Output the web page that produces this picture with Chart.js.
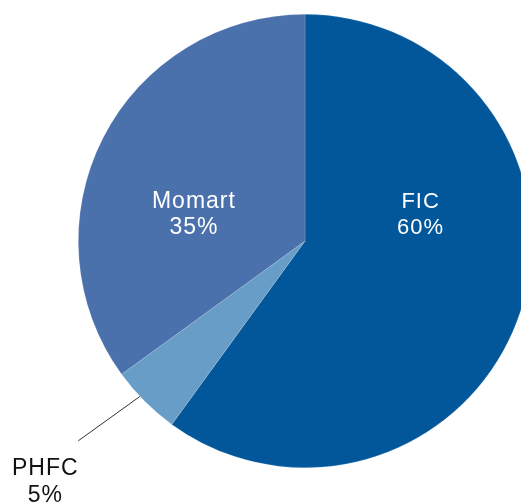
<!DOCTYPE html>
<html>
<head>
<meta charset="utf-8">
<script src="https://cdn.jsdelivr.net/npm/chart.js@4/dist/chart.umd.min.js"></script>
<style>
  html, body { margin: 0; padding: 0; background: #fff; overflow: hidden; }
  #wrap { position: absolute; left: 0; top: 0; }
</style>
</head>
<body>
<div id="wrap"><canvas id="pieChart" width="610" height="520"></canvas></div>
<script>
// Data
const categories = ["FIC", "PHFC", "Momart"];
const shares = [60, 5, 35];
const sliceColors = ["#02579b", "#689dc7", "#4b71ad"];

// label placement (fraction of radius from pie centre); null = outside with leader line
const labelSpots = [[0.51, -0.115], null, [-0.49, -0.115]];

const labelPlugin = {
    id: "sliceLabels",
    afterDatasetsDraw(chart) {
        const ctx = chart.ctx;
        const arcs = chart.getDatasetMeta(0).data;
        ctx.save();
        ctx.font = "22px 'Liberation Sans', Arial, sans-serif";
        ctx.letterSpacing = "1px";
        ctx.textAlign = "center";
        ctx.textBaseline = "middle";
        arcs.forEach((arc, i) => {
            const { x, y, outerRadius, startAngle, endAngle } = arc.getProps(["x", "y", "outerRadius", "startAngle", "endAngle"], true);
            const lines = [categories[i], shares[i] + "%"];
            const spot = labelSpots[i];
            if (spot) {
                ctx.fillStyle = "#ffffff";
                const lx = x + spot[0] * outerRadius;
                const ly = y + spot[1] * outerRadius;
                ctx.fillText(lines[0], lx, ly - 13);
                ctx.fillText(lines[1], lx, ly + 13);
            } else {
                // leader line from the slice edge out to the label
                const mid = (startAngle + endAngle) / 2;
                const sx = x + Math.cos(mid + 0.03) * outerRadius;
                const sy = y + Math.sin(mid + 0.03) * outerRadius;
                const ex = x + Math.cos(mid + 0.063) * outerRadius * 1.333;
                const ey = y + Math.sin(mid + 0.063) * outerRadius * 1.333;
                ctx.strokeStyle = "#333333";
                ctx.lineWidth = 1;
                ctx.beginPath();
                ctx.moveTo(sx, sy);
                ctx.lineTo(ex, ey);
                ctx.stroke();
                ctx.fillStyle = "#111111";
                ctx.font = "23px 'Liberation Sans', Arial, sans-serif";
                ctx.fillText(lines[0], ex - 33, ey + 28);
                ctx.fillText(lines[1], ex - 33, ey + 55);
            }
        });
        ctx.restore();
    },
};

new Chart(document.getElementById("pieChart"), {
    type: "pie",
    data: {
        labels: categories,
        datasets: [
            {
                data: shares,
                backgroundColor: sliceColors,
                borderColor: "rgba(255,255,255,0.25)",
                borderWidth: 0.6,
            },
        ],
    },
    options: {
        responsive: false,
        animation: false,
        layout: { padding: { top: 14, bottom: 52, left: 0, right: 0 } },
        plugins: {
            legend: { display: false },
            tooltip: { enabled: false },
        },
    },
    plugins: [labelPlugin],
});
</script>
</body>
</html>
